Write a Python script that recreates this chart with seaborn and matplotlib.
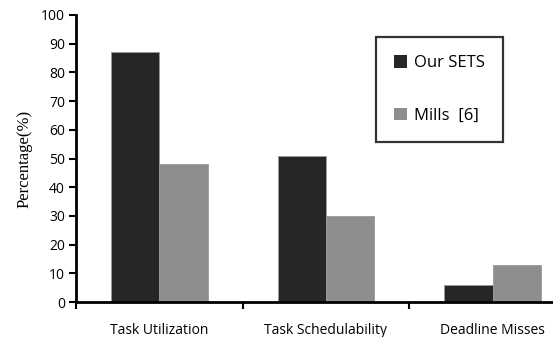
import matplotlib
matplotlib.use("Agg")
import matplotlib.pyplot as plt
import matplotlib.patches as mpatches
from matplotlib.ticker import FixedLocator
import pandas as pd
import seaborn as sns

categories = ["Task Utilization", "Task Schedulability", "Deadline Misses"]
series_names = ["Our SETS", "Mills  [6]"]
our_sets = [87, 51, 6]
mills = [48, 30, 13]
y_ticks = [0, 10, 20, 30, 40, 50, 60, 70, 80, 90, 100]
colors = ["#262626", "#8e8e8e"]

df = pd.DataFrame({
    "category": categories * 2,
    "method": [series_names[0]] * 3 + [series_names[1]] * 3,
    "value": our_sets + mills,
})

sns.set_theme(style="white")
plt.rcParams["font.family"] = ["Open Sans", "DejaVu Sans"]
plt.rcParams["text.color"] = "black"
plt.rcParams["xtick.color"] = "black"
plt.rcParams["ytick.color"] = "black"
plt.rcParams["axes.labelcolor"] = "black"

fig = plt.figure(figsize=(5.53, 3.37), dpi=100)
ax = fig.add_axes([76 / 553, 1 - 302 / 337, 500 / 553, 287 / 337])

sns.barplot(data=df, x="category", y="value", hue="method",
            order=categories, hue_order=series_names,
            palette=colors, width=0.58, gap=0, dodge=True,
            edgecolor="#9a9a9a", linewidth=0.6, ax=ax, legend=False)

ax.set_xlim(-0.5, 2.5)
ax.set_ylim(0, 100)
ax.set_yticks(y_ticks)
ax.set_yticklabels([str(t) for t in y_ticks], fontsize=10)
ax.set_xlabel("")
ax.set_ylabel("Percentage(%)", family="Liberation Serif", fontsize=12, labelpad=6)

# category labels at group centres, tick marks at group boundaries
ax.set_xticks(range(len(categories)))
ax.set_xticklabels(categories, fontsize=10)
ax.tick_params(axis="x", which="major", length=0, pad=15)
ax.xaxis.set_minor_locator(FixedLocator([-0.5, 0.5, 1.5, 2.5]))
ax.tick_params(axis="x", which="minor", bottom=True, length=5, width=1.5,
               direction="out", color="black")
ax.tick_params(axis="y", which="major", left=True, length=5, width=1.5,
               direction="out", color="black", pad=3)

for side in ["top", "right"]:
    ax.spines[side].set_visible(False)
for side in ["left", "bottom"]:
    ax.spines[side].set_color("black")
    ax.spines[side].set_linewidth(2)

handles = [mpatches.Patch(facecolor=c, edgecolor="none", label=n)
           for c, n in zip(colors, series_names)]
leg = ax.legend(handles=handles, loc="upper left",
                bbox_to_anchor=((376 - 76) / 500, 1 - (37 - 15) / 287),
                fontsize=12, frameon=True, fancybox=False,
                handlelength=0.75, handleheight=0.75, handletextpad=0.4,
                labelspacing=2.2, borderpad=1.1, borderaxespad=0)
leg.get_frame().set_edgecolor("black")
leg.get_frame().set_linewidth(1.6)

fig.savefig("out.png", dpi=100)
